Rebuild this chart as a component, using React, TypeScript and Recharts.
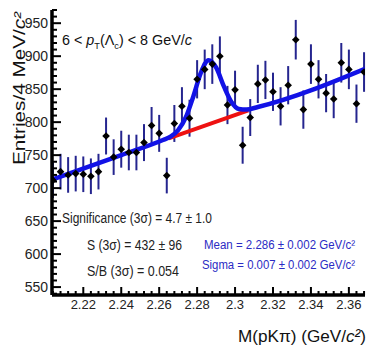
import React from "react";
import { ComposedChart, Scatter, Line, XAxis, YAxis, ErrorBar, Customized } from "recharts";

// invariant mass bins (GeV/c^2), 4 MeV wide
const massBins = [
  2.204, 2.208, 2.212, 2.216, 2.22, 2.224, 2.228, 2.232, 2.236, 2.24, 2.244, 2.248, 2.252, 2.256,
  2.26, 2.264, 2.268, 2.272, 2.276, 2.28, 2.284, 2.288, 2.292, 2.296, 2.3, 2.304, 2.308, 2.312,
  2.316, 2.32, 2.324, 2.328, 2.332, 2.336, 2.34, 2.344, 2.348, 2.352, 2.356, 2.36, 2.364, 2.368,
];
const counts = [
  712, 725, 720, 722, 721, 718, 725, 779, 747, 759, 754, 754, 769, 795,
  783, 719, 798, 824, 806, 865, 880, 888, 900, 826, 849, 765, 807, 858,
  864, 846, 824, 856, 925, 819, 888, 865, 844, 835, 890, 880, 828, 876,
];
const countErrs = [
  27, 27, 27, 27, 27, 27, 27, 28, 27, 28, 27, 27, 28, 28,
  28, 27, 28, 29, 28, 29, 30, 30, 30, 29, 29, 28, 28, 29,
  29, 29, 29, 29, 30, 29, 30, 29, 29, 29, 30, 30, 29, 30,
];

// total fit (signal + background)
const fitMass = [2.2035, 2.24, 2.262, 2.266, 2.27, 2.274, 2.278, 2.282, 2.286, 2.29, 2.294, 2.298, 2.302, 2.306, 2.312, 2.3685];
const fitTotal = [713, 750, 773, 778, 788, 807, 839, 875, 894, 883, 855, 831, 820, 819, 823, 881];

// background only, red segment under the peak
const bkgMass = [2.265, 2.307];
const bkgValues = [775.5, 818];

const xMajor = [2.22, 2.24, 2.26, 2.28, 2.3, 2.32, 2.34, 2.36];
const yMajor = [550, 600, 650, 700, 750, 800, 850, 900, 950];

const FONT = "'Liberation Sans', Arial, Helvetica, sans-serif";
const X_DOMAIN: [number, number] = [2.2035, 2.3685];
const Y_DOMAIN: [number, number] = [538, 970];

const points = massBins.map((m, i) => ({ mass: m, count: counts[i], err: countErrs[i] }));
const fitData = fitMass.map((m, i) => ({ mass: m, value: fitTotal[i] }));
const bkgData = bkgMass.map((m, i) => ({ mass: m, value: bkgValues[i] }));

const xTicks = Array.from({ length: 42 }, (_, i) => Math.round((2.204 + 0.004 * i) * 1000) / 1000);
const yTicks = Array.from({ length: 44 }, (_, i) => 540 + 10 * i);

const isMajorX = (v: number) => xMajor.some((m) => Math.abs(m - v) < 1e-6);
const isMajorY = (v: number) => yMajor.includes(v);

const BottomTick = ({ x, y, payload }: any) => {
  const major = isMajorX(payload.value);
  return (
    <g>
      <line x1={x} x2={x} y1={y} y2={y - (major ? 8 : 4)} stroke="#000" strokeWidth={2} />
      {major && (
        <text x={x} y={y + 14} textAnchor="middle" fontSize={13} fill="#222" fontFamily={FONT}>
          {String(+payload.value.toFixed(2))}
        </text>
      )}
    </g>
  );
};

const TopTick = ({ x, y, payload }: any) => {
  const major = isMajorX(payload.value);
  return <line x1={x} x2={x} y1={y} y2={y + (major ? 8 : 4)} stroke="#000" strokeWidth={2} />;
};

const LeftTick = ({ x, y, payload }: any) => {
  const major = isMajorY(payload.value);
  return (
    <g>
      <line x1={x} x2={x + (major ? 9 : 5)} y1={y} y2={y} stroke="#000" strokeWidth={2} />
      {major && (
        <text x={x - 4} y={y + 5} textAnchor="end" fontSize={14} fill="#222" fontFamily={FONT}>
          {payload.value}
        </text>
      )}
    </g>
  );
};

const RightTick = ({ x, y, payload }: any) => {
  const major = isMajorY(payload.value);
  return <line x1={x} x2={x - (major ? 9 : 5)} y1={y} y2={y} stroke="#000" strokeWidth={2} />;
};

const Diamond = ({ cx, cy }: any) => (
  <path d={`M${cx},${cy - 3.8} L${cx + 3.8},${cy} L${cx},${cy + 3.8} L${cx - 3.8},${cy} Z`} fill="#000" />
);

const Annotations = () => (
  <g fontFamily={FONT}>
    <text transform="translate(25,165) rotate(-90)" fontSize={16} fill="#111" textLength={153} lengthAdjust="spacingAndGlyphs">
      Entries/4 MeV/<tspan fontStyle="italic">c²</tspan>
    </text>
    <text x={238} y={342} fontSize={17} fill="#111" textLength={128} lengthAdjust="spacingAndGlyphs">
      M(pKπ) (GeV/<tspan fontStyle="italic">c²</tspan>)
    </text>
    <text x={62} y={45} fontSize={14} fill="#111" textLength={130} lengthAdjust="spacingAndGlyphs">
      6 &lt; <tspan fontStyle="italic">p</tspan>
      <tspan dy={4} fontSize={9}>T</tspan>
      <tspan dy={-4}>(Λ</tspan>
      <tspan dy={4} fontSize={9}>c</tspan>
      <tspan dy={-4}>) &lt; 8 GeV/</tspan>
      <tspan fontStyle="italic">c</tspan>
    </text>
    <text x={62} y={223} fontSize={14} fill="#222" textLength={150} lengthAdjust="spacingAndGlyphs">
      Significance (3σ) = 4.7 ± 1.0
    </text>
    <text x={87} y={250} fontSize={14} fill="#222" textLength={95} lengthAdjust="spacingAndGlyphs">
      S (3σ) = 432 ± 96
    </text>
    <text x={87} y={276} fontSize={14} fill="#222" textLength={92} lengthAdjust="spacingAndGlyphs">
      S/B (3σ) = 0.054
    </text>
    <text x={204} y={249} fontSize={12} fill="#2b2bc4" textLength={151} lengthAdjust="spacingAndGlyphs">
      Mean = 2.286 ± 0.002 GeV/c²
    </text>
    <text x={202} y={269} fontSize={12} fill="#2b2bc4" textLength={153} lengthAdjust="spacingAndGlyphs">
      Sigma = 0.007 ± 0.002 GeV/c²
    </text>
  </g>
);

const frame = { stroke: "#000", strokeWidth: 3.5 };

export default function App() {
  return (
    <div style={{ position: "absolute", left: 0, top: 0, background: "#fff" }}>
      <ComposedChart width={367} height={348} margin={{ top: 10, right: 2, bottom: 0, left: 0 }}>
        <XAxis
          xAxisId={0}
          dataKey="mass"
          type="number"
          domain={X_DOMAIN}
          ticks={xTicks}
          interval={0}
          tickSize={0}
          tickMargin={0}
          height={53}
          axisLine={frame}
          tickLine={false}
          tick={<BottomTick />}
          allowDataOverflow
        />
        <XAxis
          xAxisId="top"
          orientation="top"
          type="number"
          domain={X_DOMAIN}
          ticks={xTicks}
          interval={0}
          tickSize={0}
          tickMargin={0}
          height={0}
          axisLine={frame}
          tickLine={false}
          tick={<TopTick />}
          allowDataOverflow
        />
        <YAxis
          yAxisId={0}
          type="number"
          domain={Y_DOMAIN}
          ticks={yTicks}
          interval={0}
          tickSize={0}
          tickMargin={0}
          width={52}
          axisLine={frame}
          tickLine={false}
          tick={<LeftTick />}
          allowDataOverflow
        />
        <YAxis
          yAxisId="right"
          orientation="right"
          type="number"
          domain={Y_DOMAIN}
          ticks={yTicks}
          interval={0}
          tickSize={0}
          tickMargin={0}
          width={0}
          axisLine={frame}
          tickLine={false}
          tick={<RightTick />}
          allowDataOverflow
        />
        <Scatter data={points} dataKey="count" shape={<Diamond />} isAnimationActive={false}>
          <ErrorBar dataKey="err" direction="y" width={0} stroke="#25258f" strokeWidth={2} isAnimationActive={false} />
        </Scatter>
        <Line
          data={bkgData}
          dataKey="value"
          type="linear"
          dot={false}
          activeDot={false}
          stroke="#ee1111"
          strokeWidth={4}
          isAnimationActive={false}
        />
        <Line
          data={fitData}
          dataKey="value"
          type="monotone"
          dot={false}
          activeDot={false}
          stroke="#1212e6"
          strokeWidth={4.5}
          isAnimationActive={false}
        />
        <Customized component={<Annotations />} />
      </ComposedChart>
    </div>
  );
}
